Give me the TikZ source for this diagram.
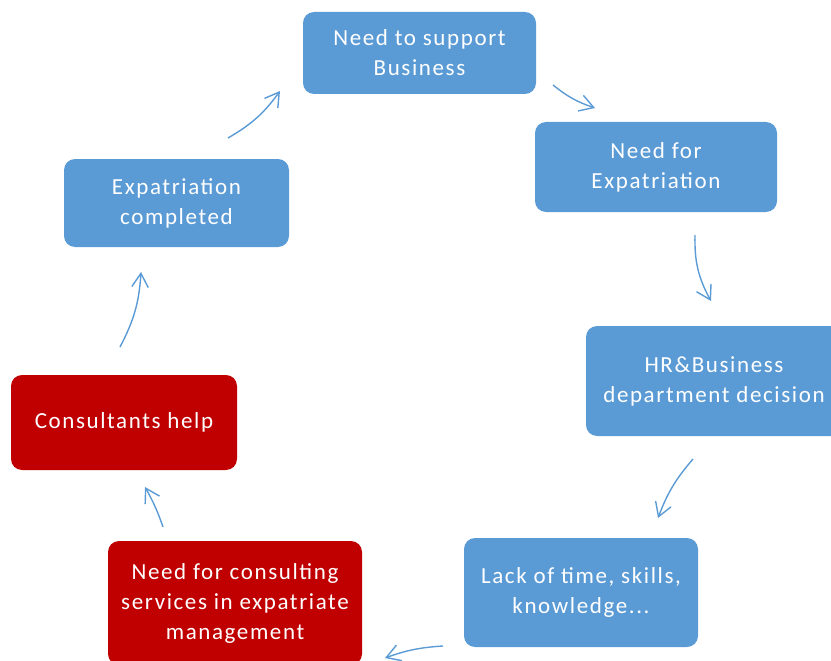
\documentclass[tikz,border=0pt]{standalone}
\usepackage{fontspec}
\setmainfont{Carlito}[LetterSpace=7]
\usetikzlibrary{arrows.meta}
\definecolor{cycleblue}{HTML}{5B9BD5}
\definecolor{cyclered}{HTML}{C00000}
\tikzset{
  box/.style={rounded corners=11pt, fill=#1, text=white, align=center,
    font=\fontsize{23}{30}\selectfont, inner sep=0pt},
  flow/.style={draw=cycleblue, line width=1.4pt,
    -{Straight Barb[angle=62:16pt, line width=1.4pt]}}
}
\begin{document}
\begin{tikzpicture}[x=1pt, y=-1pt]
  \useasboundingbox (0,0) rectangle (831,661);
  \clip (0,0) rectangle (831,661);

  % process steps
  \node[box=cycleblue, minimum width=233pt, minimum height=82pt] (support) at (419.5,53) {Need to support\\Business};
  \node[box=cycleblue, minimum width=242pt, minimum height=90pt] (need) at (656,167) {Need for\\Expatriation};
  \node[box=cycleblue, minimum width=256pt, minimum height=110pt] (hr) at (714,381) {HR\&Business\\department decision};
  \node[box=cycleblue, minimum width=234pt, minimum height=109pt] (lack) at (581,592.5) {Lack of time, skills,\\knowledge.{}.{}.};
  \node[box=cyclered, minimum width=254pt, minimum height=124pt] (consulting) at (235,603) {Need for consulting\\services in expatriate\\management};
  \node[box=cyclered, minimum width=226pt, minimum height=95pt] (help) at (124,422.5) {Consultants help};
  \node[box=cycleblue, minimum width=225pt, minimum height=88pt] (done) at (176.5,203) {Expatriation\\completed};

  % connector end points
  \coordinate (a1s) at (553,85);   \coordinate (a1e) at (595,108);
  \coordinate (a2s) at (695,235);  \coordinate (a2e) at (711,301);
  \coordinate (a3s) at (693,459);  \coordinate (a3e) at (658,518);
  \coordinate (a4s) at (443,646);  \coordinate (a4e) at (385,658);
  \coordinate (a5s) at (163,527);  \coordinate (a5e) at (145,487);
  \coordinate (a6s) at (120,347);  \coordinate (a6e) at (141,272);
  \coordinate (a7s) at (228,138);  \coordinate (a7e) at (280,91);

  \draw[flow] (a1s) to[bend right=10] (a1e);
  \draw[flow] (a2s) to[bend right=15] (a2e);
  \draw[flow] (a3s) to[bend right=10] (a3e);
  \draw[flow] (a4s) to[bend right=8] (a4e);
  \draw[flow] (a5s) to[bend right=5] (a5e);
  \draw[flow] (a6s) to[bend right=12] (a6e);
  \draw[flow] (a7s) to[bend right=12] (a7e);
\end{tikzpicture}
\end{document}
